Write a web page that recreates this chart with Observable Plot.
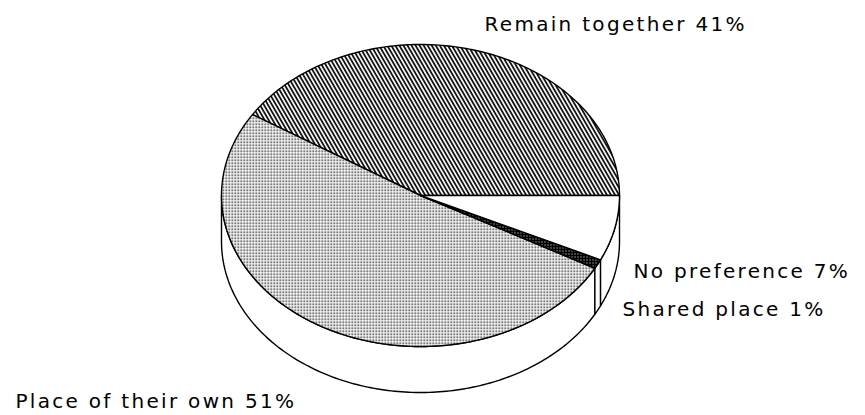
<!DOCTYPE html>
<html><head><meta charset="utf-8">
<script src="https://cdn.jsdelivr.net/npm/d3@7"></script>
<script src="https://cdn.jsdelivr.net/npm/@observablehq/plot@0.6"></script>
<style>html,body{margin:0;padding:0;background:#fff;overflow:hidden}</style>
</head><body>
<svg width="0" height="0" style="position:absolute">
<defs>
<pattern id="hatch" width="3.5" height="10" patternUnits="userSpaceOnUse" patternTransform="rotate(-30)">
 <rect width="3.5" height="10" fill="#fff"/>
 <line x1="1" y1="-1" x2="1" y2="11" stroke="#000" stroke-width="1.7"/>
</pattern>
<pattern id="dots" width="3" height="3" patternUnits="userSpaceOnUse">
 <rect width="3" height="3" fill="#fff"/>
 <rect x="0" y="0" width="1.5" height="1.5" fill="#111"/>
</pattern>
<pattern id="dense" width="3" height="3" patternUnits="userSpaceOnUse">
 <rect width="3" height="3" fill="#000"/>
 <rect x="1" y="1" width="1" height="1" fill="#fff"/>
</pattern>
</defs></svg>
<div id="chart"></div>
<script>
// ---- data ----
const categories = ["Remain together", "Place of their own", "Shared place", "No preference"];
const shares = [41, 51, 1, 7];
const labels = ["Remain together 41%", "Place of their own 51%", "Shared place 1%", "No preference 7%"];

// ---- style / layout ----
const patterns = {"Remain together": "url(#hatch)", "Place of their own": "url(#dots)", "Shared place": "url(#dense)", "No preference": "#ffffff"};
const W = 865, H = 415;
const PX = 199;               // pixels per unit radius
const CX = 420, CY = 195;     // pie centre in pixels
const tilt = 151 / 199;       // vertical squash of the top ellipse
const depth = 46 / 199;       // thickness of the pie
// label anchors (pixels: left x, baseline y)
const labelAt = {
  "Remain together": [484, 30],
  "Place of their own": [15, 407],
  "Shared place": [622, 315],
  "No preference": [633, 277]
};
const FS = 20;

// ---- geometry from the data ----
const total = d3.sum(shares);
let acc = 0;
const slices = categories.map((c, i) => {
  const a0 = acc / total * 360;
  acc += shares[i];
  const a1 = acc / total * 360;
  return {cat: c, a0, a1};
});
const rad = d => d * Math.PI / 180;
function arc(a0, a1, dz = 0) {
  const n = Math.max(2, Math.ceil(Math.abs(a1 - a0)));
  const pts = [];
  for (let k = 0; k <= n; k++) {
    const a = a0 + (a1 - a0) * k / n;
    pts.push([Math.cos(rad(a)), tilt * Math.sin(rad(a)) - dz]);
  }
  return pts;
}
const topPts = [], sidePts = [];
slices.forEach(s => {
  const pts = [[0, 0], ...arc(s.a0, s.a1), [0, 0]];
  pts.forEach(p => topPts.push({key: s.cat, x: p[0], y: p[1], fill: patterns[s.cat]}));
  const s0 = Math.max(s.a0, 180), s1 = Math.min(s.a1, 360);
  if (s1 > s0) {
    const poly = [...arc(s0, s1), ...arc(s1, s0, depth)];
    poly.push(poly[0]);
    poly.forEach(p => sidePts.push({key: s.cat, x: p[0], y: p[1]}));
  }
});
const labelData = categories.map((c, i) => ({
  text: labels[i],
  x: (labelAt[c][0] - CX) / PX,
  y: (CY - (labelAt[c][1] - 0.32 * FS)) / PX
}));

const chart = Plot.plot({
  width: W, height: H,
  margin: 0,
  x: {domain: [-CX / PX, (W - CX) / PX], range: [0, W], axis: null},
  y: {domain: [-(H - CY) / PX, CY / PX], range: [H, 0], axis: null},
  color: {type: "identity"},
  style: {background: "#fff", letterSpacing: "2.3px"},
  marks: [
    Plot.line(sidePts, {x: "x", y: "y", z: "key", fill: "#fff", stroke: "#000", strokeWidth: 1.4, strokeLinejoin: "round"}),
    Plot.line(topPts, {x: "x", y: "y", z: "key", fill: "fill", stroke: "#000", strokeWidth: 1.4, strokeLinejoin: "round"}),
    Plot.text(labelData, {x: "x", y: "y", text: "text", textAnchor: "start", fontSize: FS, fontFamily: "DejaVu Sans", fill: "#000"})
  ]
});
document.getElementById("chart").appendChild(chart);
</script>
</body></html>
